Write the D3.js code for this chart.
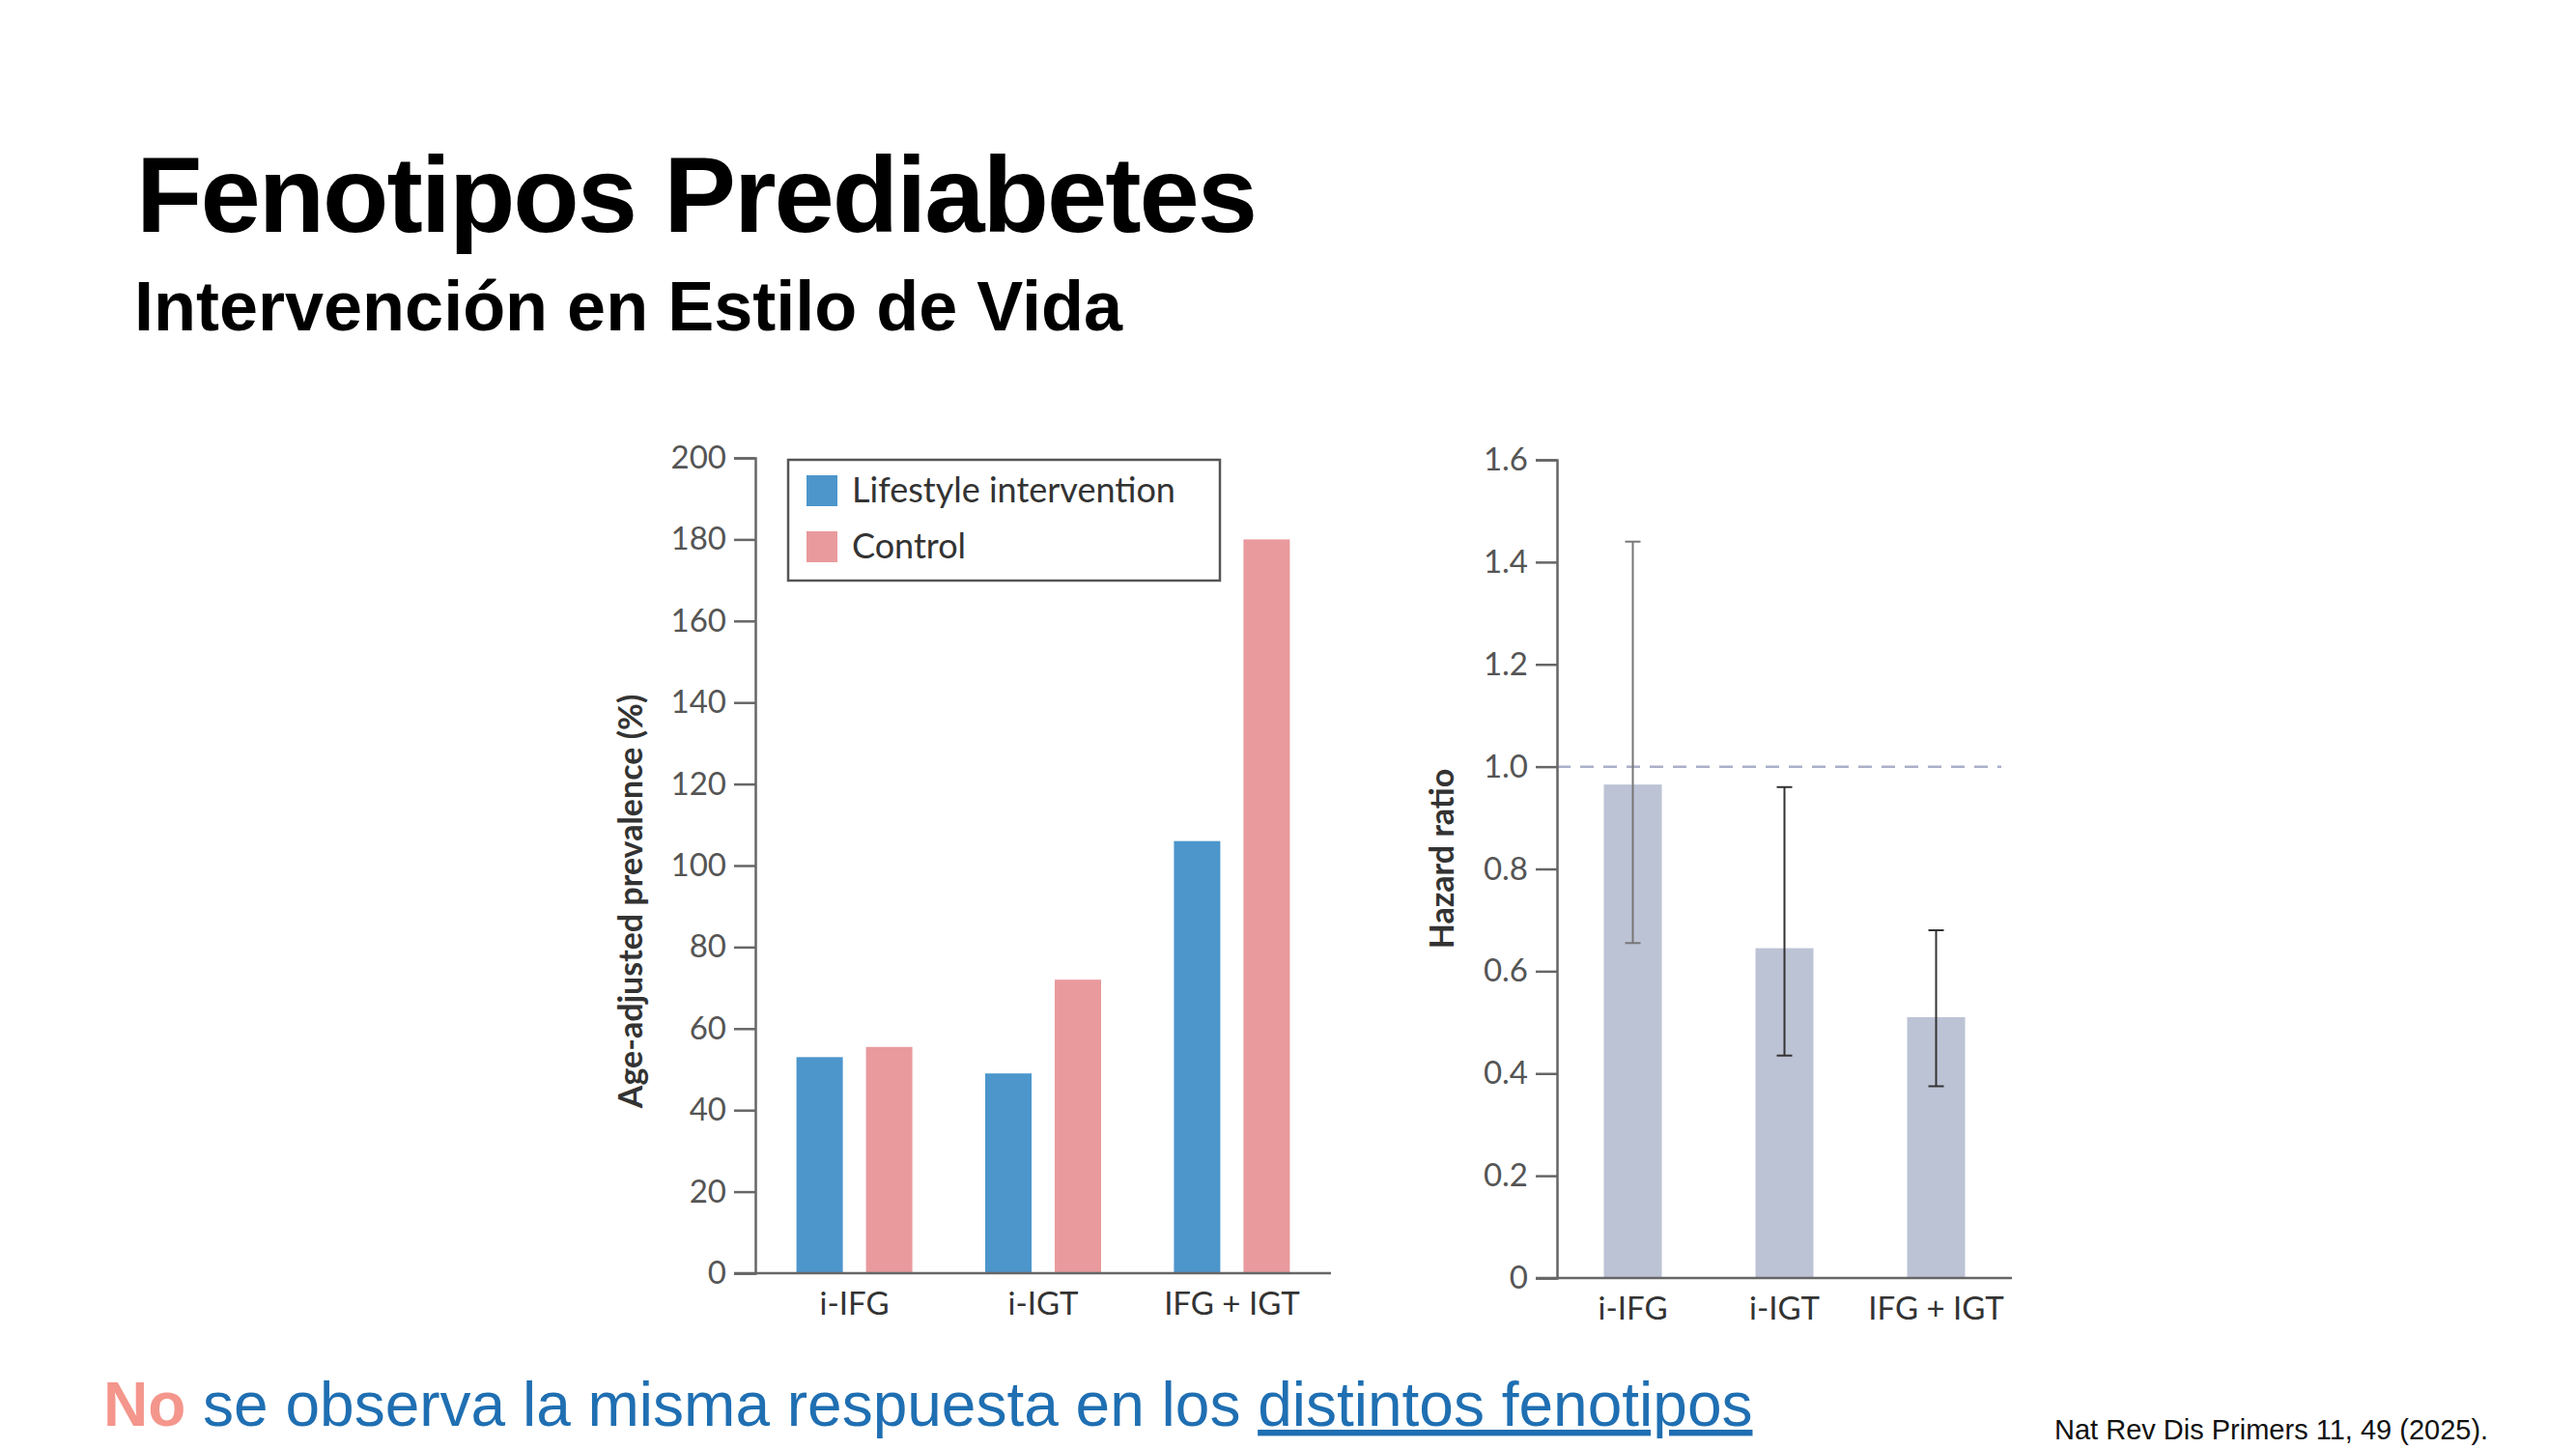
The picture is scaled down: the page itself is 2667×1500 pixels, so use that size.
<!DOCTYPE html><html><head><meta charset="utf-8">
<script src="https://cdn.jsdelivr.net/npm/d3@7"></script>
<style>body{margin:0;background:#fff}svg{display:block}</style></head><body>
<svg id="c" width="2667" height="1500"></svg>
<script>
const categories=["i-IFG","i-IGT","IFG + IGT"];
const lifestyle=[53,49,106];
const control=[55.5,72,180];
const prevTicks=[0,20,40,60,80,100,120,140,160,180,200];
const hazard=[0.965,0.645,0.51];
const hazardLo=[0.655,0.435,0.375];
const hazardHi=[1.44,0.96,0.68];
const hrTicks=[0,0.2,0.4,0.6,0.8,1.0,1.2,1.4,1.6];
const seriesNames=["Lifestyle intervention","Control"];

const svg=d3.select("#c");
const F="Lato, 'Open Sans', sans-serif";
svg.append("text").attr("x",141).attr("y",240).attr("font-family","Liberation Sans, Arial").attr("font-weight","bold").attr("font-size",112).attr("letter-spacing",-2).text("Fenotipos Prediabetes");
svg.append("text").attr("x",139).attr("y",342).attr("font-family","Liberation Sans, Arial").attr("font-weight","bold").attr("font-size",72).text("Intervención en Estilo de Vida");

// left chart
const L=svg.append("g");
const y1=d3.scaleLinear().domain([0,200]).range([1318,474]);
const x1=d3.scaleBand().domain(categories).range([782,1378]).paddingInner(0.35).paddingOuter(0.2);
const blue="#4c96cc",pink="#e99a9d";
const bw=48;
categories.forEach((c,i)=>{
  const cx=x1(c)+x1.bandwidth()/2;
  L.append("rect").attr("x",cx-bw-12).attr("width",bw).attr("y",y1(lifestyle[i])).attr("height",y1(0)-y1(lifestyle[i])).attr("fill",blue);
  L.append("rect").attr("x",cx+12).attr("width",bw).attr("y",y1(control[i])).attr("height",y1(0)-y1(control[i])).attr("fill",pink);
});
const ay=L.append("g").attr("transform","translate(782,0)").call(d3.axisLeft(y1).tickValues(prevTicks).tickSize(22).tickPadding(8));
const ax=L.append("g").attr("transform","translate(0,1318)").call(d3.axisBottom(x1).tickSize(0).tickPadding(20));
ax.select(".domain").attr("d","M760,0H1378");
[ay,ax].forEach(a=>{a.selectAll("path,line").attr("stroke","#666").attr("stroke-width",2.5);a.selectAll("text").attr("font-family",F).attr("font-size",33).attr("fill","#555");});
ax.selectAll("text").attr("fill","#333");
L.append("text").attr("transform","translate(665,933) rotate(-90)").attr("text-anchor","middle").attr("font-family",F).attr("font-weight","bold").attr("font-size",34).attr("fill","#333").text("Age-adjusted prevalence (%)");
// legend
L.append("rect").attr("x",816).attr("y",476).attr("width",447).attr("height",125).attr("fill","none").attr("stroke","#555").attr("stroke-width",2.5);
seriesNames.forEach((n,i)=>{
  L.append("rect").attr("x",835).attr("y",492+i*58).attr("width",32).attr("height",32).attr("fill",i?pink:blue);
  L.append("text").attr("x",882).attr("y",520+i*58).attr("font-family",F).attr("font-size",36).attr("fill","#333").text(n);
});

// right chart
const R=svg.append("g");
const y2=d3.scaleLinear().domain([0,1.6]).range([1323,476]);
const x2=d3.scaleBand().domain(categories).range([1612,2083]).paddingInner(0.6).paddingOuter(0.3);
R.selectAll("rect.b").data(categories).join("rect").attr("x",c=>x2(c)+x2.bandwidth()/2-30).attr("width",60)
 .attr("y",(c,i)=>y2(hazard[i])).attr("height",(c,i)=>y2(0)-y2(hazard[i])).attr("fill","#bcc3d5");
R.append("line").attr("x1",1612).attr("x2",2072).attr("y1",y2(1)).attr("y2",y2(1)).attr("stroke","#aab0c8").attr("stroke-width",2.5).attr("stroke-dasharray","14,10");
categories.forEach((c,i)=>{
  const cx=x2(c)+x2.bandwidth()/2;
  const col=i?"#333":"#777";
  R.append("line").attr("x1",cx).attr("x2",cx).attr("y1",y2(hazardLo[i])).attr("y2",y2(hazardHi[i])).attr("stroke",col).attr("stroke-width",2);
  [hazardLo[i],hazardHi[i]].forEach(v=>R.append("line").attr("x1",cx-8).attr("x2",cx+8).attr("y1",y2(v)).attr("y2",y2(v)).attr("stroke",col).attr("stroke-width",2));
});
const by=R.append("g").attr("transform","translate(1612,0)").call(d3.axisLeft(y2).tickValues(hrTicks).tickSize(22).tickPadding(8).tickFormat(d=>d===0?"0":d3.format(".1f")(d)));
const bx=R.append("g").attr("transform","translate(0,1323)").call(d3.axisBottom(x2).tickSize(0).tickPadding(20));
bx.select(".domain").attr("d","M1590,0H2083");
[by,bx].forEach(a=>{a.selectAll("path,line").attr("stroke","#666").attr("stroke-width",2.5);a.selectAll("text").attr("font-family",F).attr("font-size",33).attr("fill","#555");});
bx.selectAll("text").attr("fill","#333");
R.append("text").attr("transform","translate(1505,889) rotate(-90)").attr("text-anchor","middle").attr("font-family",F).attr("font-weight","bold").attr("font-size",34).attr("fill","#333").text("Hazard ratio");

// bottom
const t=svg.append("text").attr("x",107).attr("y",1476).attr("font-family","Liberation Sans, Arial").attr("font-size",64).attr("fill","#1f6fb2");
t.append("tspan").attr("font-weight","bold").attr("fill","#f4968c").text("No");
t.append("tspan").text(" se observa la misma respuesta en los ");
t.append("tspan").attr("text-decoration","underline").text("distintos fenotipos");
svg.append("text").attr("x",2127).attr("y",1490).attr("font-family","Liberation Sans, Arial").attr("font-size",29).attr("fill","#111").text("Nat Rev Dis Primers 11, 49 (2025).");
</script></body></html>
